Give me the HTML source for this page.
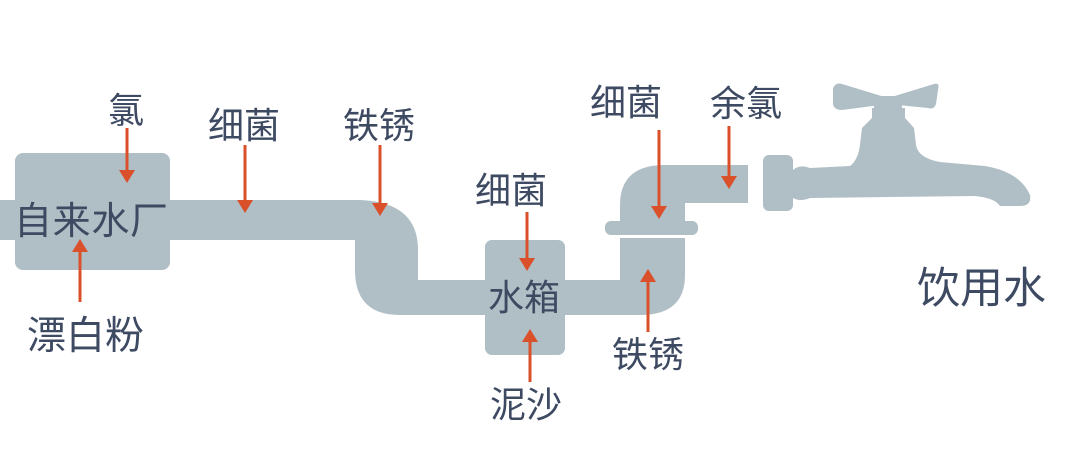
<!DOCTYPE html>
<html><head><meta charset="utf-8"><style>
html,body{margin:0;padding:0;background:#fff;}
svg text{font-family:"Liberation Sans","Noto Sans CJK SC",sans-serif;fill:#3d4a62;}
</style></head><body>
<svg width="1080" height="470" viewBox="0 0 1080 470" xmlns="http://www.w3.org/2000/svg">
<g fill="#b0bec6">
<rect x="0" y="200" width="40" height="40"/>
<rect x="15" y="153" width="155" height="117" rx="8"/>
<path d="M165,200 L355,200 Q418,200 418,250 L418,280 L490,280 L490,315 L400,315 Q355,315 355,270 L355,240 L165,240 Z"/>
<rect x="485" y="240" width="80" height="115" rx="7"/>
<path d="M560,280 L620,280 L620,238 L685,238 L685,275 Q685,315 640,315 L560,315 Z"/>
<rect x="605" y="221" width="93" height="14" rx="6"/>
<path d="M620,221 L620,205 Q620,165 665,165 L748,165 L748,203 L685,203 L685,221 Z"/>
<rect x="763" y="155" width="30" height="56" rx="6"/>
<path d="M793,170 Q800,164 810,168 L850,166 Q858,160 860,145 L862,128 L872,118 L872,108 L905,108 L905,118 L914,128 L916,145 Q918,158 940,162 L985,166 Q1020,172 1030,195 Q1032,206 1020,206 L1000,206 Q995,198 975,196 L810,198 Q800,202 793,198 Z"/>
<path d="M833,88 Q836,82 842,84 L888,98 L934,84 Q940,82 938,90 L936,104 Q934,110 928,108 L888,104 L842,110 Q834,110 833,104 Z"/>
<rect x="874" y="96" width="28" height="16" rx="3"/>
</g>
<line x1="605" y1="236" x2="698" y2="236" stroke="#fff" stroke-width="2"/>
<line x1="755" y1="160" x2="755" y2="212" stroke="#fff" stroke-width="3"/>
<g stroke="#d9502a" stroke-width="3">
<line x1="127" y1="128" x2="127" y2="172"/>
<line x1="80" y1="302" x2="80" y2="250"/>
<line x1="245" y1="145" x2="245" y2="202"/>
<line x1="380" y1="145" x2="380" y2="205"/>
<line x1="527" y1="212" x2="527" y2="260"/>
<line x1="530" y1="382" x2="530" y2="340"/>
<line x1="659" y1="130" x2="659" y2="208"/>
<line x1="729" y1="126" x2="729" y2="178"/>
<line x1="648" y1="332" x2="648" y2="280"/>
</g>
<g fill="#d9502a">
<polygon points="119,170 135,170 127,183"/>
<polygon points="72,252 88,252 80,239"/>
<polygon points="237,200 253,200 245,213"/>
<polygon points="372,203 388,203 380,216"/>
<polygon points="519,258 535,258 527,271"/>
<polygon points="522,342 538,342 530,329"/>
<polygon points="651,206 667,206 659,219"/>
<polygon points="721,176 737,176 729,189"/>
<polygon points="640,282 656,282 648,269"/>
</g>
<g font-size="36">
<text x="108" y="123">氯</text>
<text x="208" y="138">细菌</text>
<text x="343" y="138">铁锈</text>
<text x="475" y="203">细菌</text>
<text x="590" y="115">细菌</text>
<text x="710" y="116">余氯</text>
<text x="612" y="367">铁锈</text>
<text x="490" y="417">泥沙</text>
<text x="27" y="349" font-size="39">漂白粉</text>
<text x="917" y="303" font-size="43">饮用水</text>
</g>
<text x="14" y="234" font-size="38" textLength="154">自来水厂</text>
<text x="488" y="310" font-size="36">水箱</text>
</svg>
</body></html>
